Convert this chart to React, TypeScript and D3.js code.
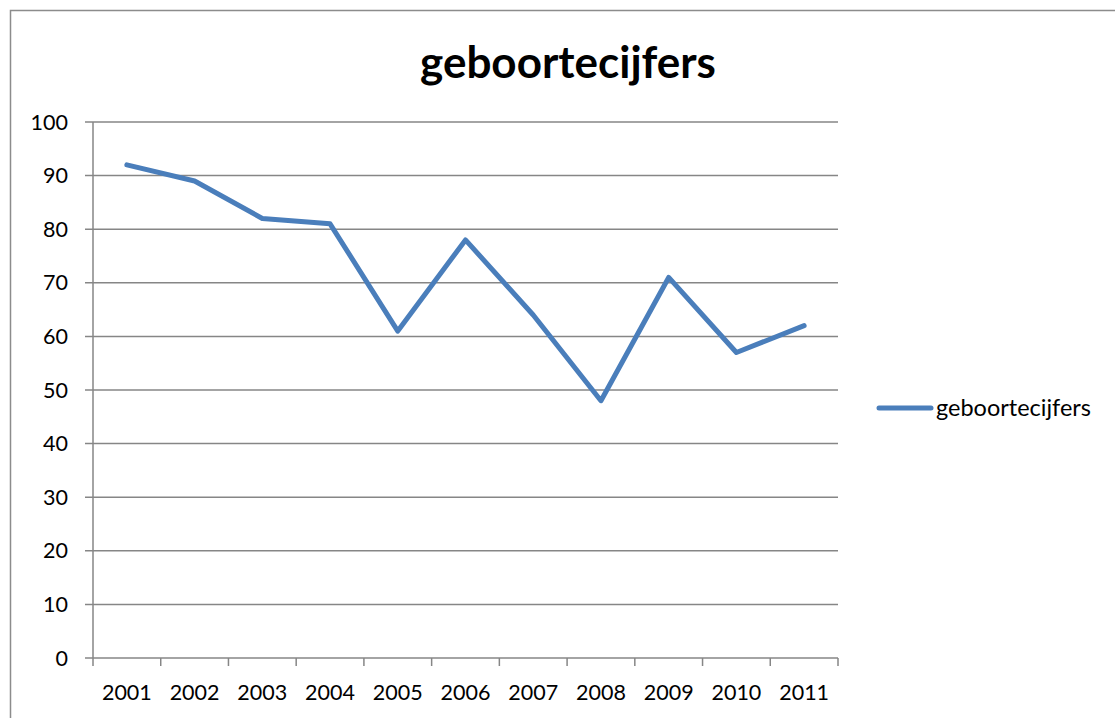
import { useMemo } from 'react'
import * as d3 from 'd3'

const years = ['2001', '2002', '2003', '2004', '2005', '2006', '2007', '2008', '2009', '2010', '2011']
const births = [92, 89, 82, 81, 61, 78, 64, 48, 71, 57, 62]
const yTicks = [0, 10, 20, 30, 40, 50, 60, 70, 80, 90, 100]

const seriesName = 'geboortecijfers'
const title = 'geboortecijfers'

const W = 1115
const H = 718
const margin = { left: 93, right: 277, top: 122, bottom: 60 }
const font = 'Lato, "Open Sans", sans-serif'
const blue = '#4a7ebb'
const grid = '#868686'

export default function App() {
    const xScale = useMemo(
        () => d3.scaleBand().domain(years).range([margin.left, W - margin.right]),
        []
    )
    const yScale = useMemo(
        () => d3.scaleLinear().domain([0, 100]).range([H - margin.bottom, margin.top]),
        []
    )
    const line = d3
        .line<number>()
        .x((_, i) => xScale(years[i])! + xScale.bandwidth() / 2)
        .y((d) => yScale(d))

    const x0 = margin.left
    const x1 = W - margin.right
    const y0 = yScale(0)
    const bw = xScale.bandwidth()

    return (
        <svg
            width={W}
            height={H}
            style={{ position: 'absolute', left: 0, top: 0, background: '#fff' }}
            fontFamily={font}
        >
            <rect x={10.5} y={10.5} width={W + 10} height={H + 10} fill="#fff" stroke="#8c8c8c" strokeWidth={1.5} />
            <text x={568} y={78} textAnchor="middle" fontSize={44} fontWeight="bold" fill="#000">
                {title}
            </text>

            {yTicks.map((t) => (
                <g key={t}>
                    <line x1={x0 - 8} x2={x1} y1={yScale(t)} y2={yScale(t)} stroke={grid} strokeWidth={1.5} />
                    <text x={68} y={yScale(t)} dy="0.35em" textAnchor="end" fontSize={21.5} fill="#000">
                        {t}
                    </text>
                </g>
            ))}

            <line x1={x0} x2={x0} y1={yScale(100)} y2={y0 + 8} stroke={grid} strokeWidth={1.5} />
            {years.map((y) => (
                <g key={y}>
                    <line
                        x1={xScale(y)! + bw}
                        x2={xScale(y)! + bw}
                        y1={y0}
                        y2={y0 + 8}
                        stroke={grid}
                        strokeWidth={1.5}
                    />
                    <text x={xScale(y)! + bw / 2} y={700} textAnchor="middle" fontSize={21.5} fill="#000">
                        {y}
                    </text>
                </g>
            ))}

            <path
                d={line(births) ?? ''}
                fill="none"
                stroke={blue}
                strokeWidth={5}
                strokeLinejoin="round"
                strokeLinecap="round"
            />

            <line x1={879} x2={931} y1={408} y2={408} stroke={blue} strokeWidth={5} strokeLinecap="round" />
            <text x={936} y={408} dy="0.35em" fontSize={23.5} fill="#000">
                {seriesName}
            </text>
        </svg>
    )
}
